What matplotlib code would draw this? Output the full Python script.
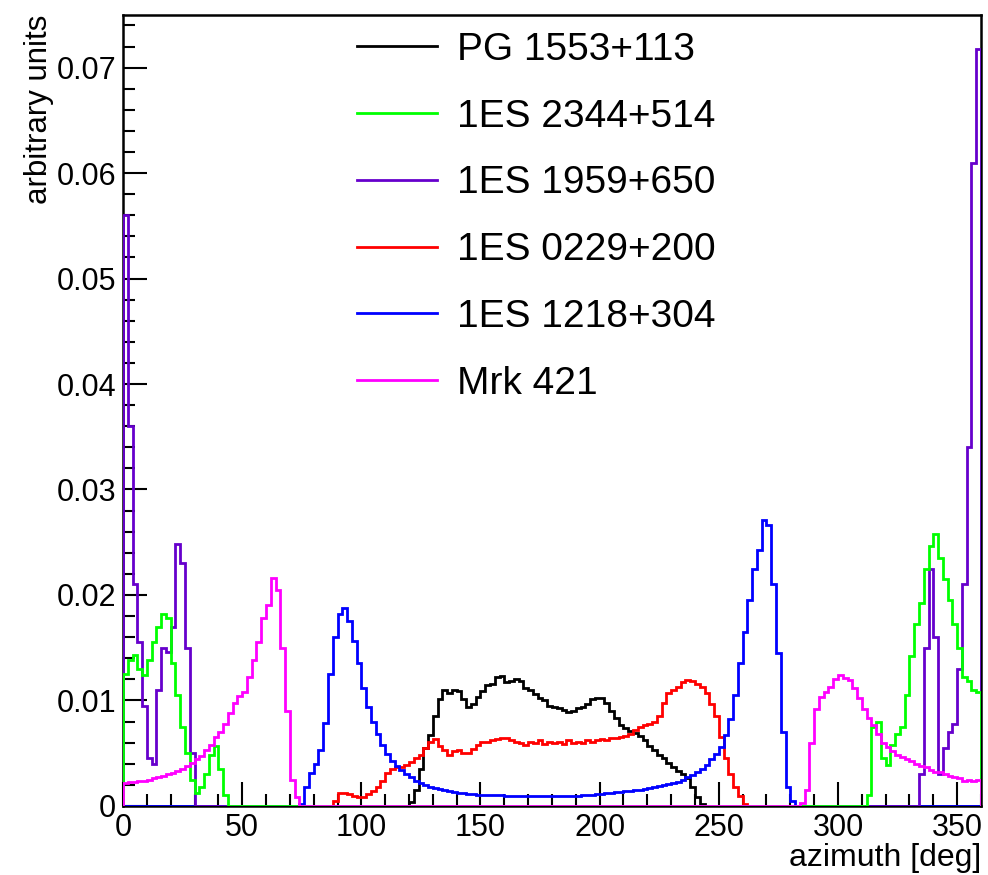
import numpy as np
import matplotlib
matplotlib.use("Agg")
import matplotlib.pyplot as plt
from matplotlib.ticker import MultipleLocator, FuncFormatter

plt.rcParams["font.family"] = ["Liberation Sans", "DejaVu Sans"]

BIN = 2.0  # degrees per bin
edges = np.arange(0, 360 + BIN, BIN)

labels = ["PG 1553+113", "1ES 2344+514", "1ES 1959+650",
          "1ES 0229+200", "1ES 1218+304", "Mrk 421"]
colors = ["#000000", "#00ff00", "#6600cc", "#ff0000", "#0000ff", "#ff00ff"]

# PG 1553+113, from 120 deg
pg1553_start = 120
pg1553 = [0.0004, 0.0015, 0.0035, 0.0055, 0.0067, 0.0085, 0.0101, 0.0110,
          0.0107, 0.0110, 0.0109, 0.0101, 0.0094, 0.0097, 0.0103, 0.0109,
          0.0115, 0.0116, 0.0122, 0.0123, 0.0117, 0.0118, 0.0120, 0.0118,
          0.0112, 0.0110, 0.0106, 0.0102, 0.0100, 0.0095, 0.0094, 0.0093,
          0.0091, 0.0089, 0.0090, 0.0093, 0.0094, 0.0097, 0.0101, 0.0102,
          0.0102, 0.0098, 0.0090, 0.0083, 0.0077, 0.0074, 0.0071, 0.0069,
          0.0066, 0.0062, 0.0057, 0.0053, 0.0048, 0.0045, 0.0041, 0.0037,
          0.0033, 0.0030, 0.0026, 0.0018, 0.0008, 0.0002]

# 1ES 2344+514, two pieces
es2344_left_start = 0
es2344_left = [0.0125, 0.0138, 0.0143, 0.0130, 0.0124, 0.0138, 0.0155, 0.0170,
               0.0182, 0.0178, 0.0135, 0.0105, 0.0075, 0.0050, 0.0025, 0.0012,
               0.0018, 0.0030, 0.0048, 0.0057, 0.0035, 0.0010]
es2344_right_start = 312
es2344_right = [0.0010, 0.0075, 0.0080, 0.0045, 0.0039, 0.0058, 0.0068, 0.0075,
                0.0105, 0.0142, 0.0172, 0.0192, 0.0225, 0.0246, 0.0258, 0.0235,
                0.0215, 0.0195, 0.0172, 0.0150, 0.0122, 0.0118, 0.0110, 0.0108]

# 1ES 1959+650, two pieces
es1959_left_start = 0
es1959_left = [0.0560, 0.0360, 0.0210, 0.0155, 0.0095, 0.0045, 0.0040, 0.0110,
               0.0150, 0.0146, 0.0170, 0.0248, 0.0230, 0.0150, 0.0050]
es1959_right_start = 334
es1959_right = [0.0030, 0.0150, 0.0225, 0.0160, 0.0030, 0.0055, 0.0070, 0.0078,
                0.0130, 0.0210, 0.0340, 0.0610, 0.0718]

# 1ES 0229+200, from 88 deg
es0229_start = 88
es0229 = [0.0005, 0.0012, 0.0012, 0.0011, 0.0009, 0.0008, 0.0008, 0.0011,
          0.0014, 0.0018, 0.0024, 0.0031, 0.0035, 0.0037, 0.0037, 0.0039,
          0.0042, 0.0045, 0.0048, 0.0055, 0.0061, 0.0063, 0.0057, 0.0053,
          0.0048, 0.0052, 0.0053, 0.0050, 0.0050, 0.0054, 0.0058, 0.0061,
          0.0061, 0.0062, 0.0063, 0.0064, 0.0064, 0.0062, 0.0061, 0.0060,
          0.0058, 0.0061, 0.0060, 0.0062, 0.0059, 0.0061, 0.0060, 0.0061,
          0.0059, 0.0062, 0.0060, 0.0061, 0.0060, 0.0062, 0.0061, 0.0062,
          0.0063, 0.0062, 0.0064, 0.0064, 0.0065, 0.0066, 0.0068, 0.0072,
          0.0075, 0.0077, 0.0078, 0.0080, 0.0085, 0.0098, 0.0107, 0.0110,
          0.0113, 0.0117, 0.0119, 0.0118, 0.0116, 0.0113, 0.0107, 0.0097,
          0.0085, 0.0065, 0.0045, 0.0030, 0.0018, 0.0009, 0.0002]

# 1ES 1218+304, from 74 deg
es1218_start = 74
es1218 = [0.0002, 0.0018, 0.0031, 0.0040, 0.0053, 0.0079, 0.0125, 0.0160,
          0.0182, 0.0188, 0.0175, 0.0156, 0.0135, 0.0112, 0.0094, 0.0080,
          0.0068, 0.0058, 0.0049, 0.0043, 0.0038, 0.0034, 0.0030, 0.0027,
          0.0024, 0.0022, 0.0020, 0.0018, 0.0017, 0.0016, 0.0015, 0.0014,
          0.0013, 0.0012, 0.0012, 0.0011, 0.0011, 0.0010, 0.0010, 0.0010,
          0.0010, 0.0010, 0.0010, 0.0009, 0.0009, 0.0009, 0.0009, 0.0009,
          0.0009, 0.0009, 0.0009, 0.0009, 0.0009, 0.0009, 0.0009, 0.0009,
          0.0009, 0.0009, 0.0009, 0.0010, 0.0010, 0.0010, 0.0011, 0.0011,
          0.0012, 0.0012, 0.0013, 0.0013, 0.0014, 0.0014, 0.0015, 0.0015,
          0.0016, 0.0017, 0.0018, 0.0019, 0.0020, 0.0021, 0.0022, 0.0023,
          0.0025, 0.0027, 0.0029, 0.0032, 0.0035, 0.0039, 0.0044, 0.0049,
          0.0056, 0.0067, 0.0082, 0.0105, 0.0135, 0.0165, 0.0195, 0.0225,
          0.0243, 0.0271, 0.0266, 0.0210, 0.0145, 0.0070, 0.0018, 0.0005]

# Mrk 421, two pieces
mrk421_left_start = 0
mrk421_left = [0.0022, 0.0023, 0.0023, 0.0024, 0.0024, 0.0025, 0.0026, 0.0027,
               0.0028, 0.0030, 0.0031, 0.0033, 0.0035, 0.0038, 0.0041, 0.0044,
               0.0047, 0.0053, 0.0058, 0.0065, 0.0070, 0.0078, 0.0088, 0.0098,
               0.0104, 0.0108, 0.0122, 0.0138, 0.0155, 0.0178, 0.0190, 0.0216,
               0.0205, 0.0150, 0.0090, 0.0025, 0.0008]
mrk421_right_start = 284
mrk421_right = [0.0003, 0.0015, 0.0060, 0.0092, 0.0103, 0.0108, 0.0113, 0.0120,
                0.0124, 0.0121, 0.0119, 0.0112, 0.0102, 0.0092, 0.0083, 0.0077,
                0.0068, 0.0060, 0.0056, 0.0052, 0.0048, 0.0046, 0.0044, 0.0043,
                0.0040, 0.0038, 0.0037, 0.0034, 0.0032, 0.0032, 0.0030, 0.0028,
                0.0027, 0.0026, 0.0024, 0.0025, 0.0024, 0.0025]


def histogram(*pieces):
    h = np.zeros(len(edges) - 1)
    for start, vals in pieces:
        i = int(start / BIN)
        h[i:i + len(vals)] = vals
    return h


hists = [
    histogram((pg1553_start, pg1553)),
    histogram((es2344_left_start, es2344_left), (es2344_right_start, es2344_right)),
    histogram((es1959_left_start, es1959_left), (es1959_right_start, es1959_right)),
    histogram((es0229_start, es0229)),
    histogram((es1218_start, es1218)),
    histogram((mrk421_left_start, mrk421_left), (mrk421_right_start, mrk421_right)),
]
# drawing order seen along the zero line (bottom to top)
zorders = [2, 5, 4, 2.5, 3, 6]

fig = plt.figure(figsize=(9.88, 8.75), dpi=100)
ax = fig.add_axes([0.1245, 0.079, 0.8684, 0.904])

for h, lab, col, z in zip(hists, labels, colors, zorders):
    ax.stairs(h, edges, color=col, lw=2.0, label=lab, zorder=z)

ax.set_xlim(0, 360)
ax.set_ylim(0, 0.075)

ax.xaxis.set_major_locator(MultipleLocator(50))
ax.xaxis.set_minor_locator(MultipleLocator(10))
ax.yaxis.set_major_locator(MultipleLocator(0.01))
ax.yaxis.set_minor_locator(MultipleLocator(0.002))
ax.yaxis.set_major_formatter(FuncFormatter(lambda v, p: "0" if v == 0 else f"{v:.2f}"))

ax.tick_params(which="both", direction="in", top=False, right=False,
               width=1.5, labelsize=22)
ax.tick_params(which="major", length=17)
ax.tick_params(which="minor", length=8.5)
ax.tick_params(axis="y", pad=5)
ax.tick_params(axis="x", pad=5)
for s in ax.spines.values():
    s.set_linewidth(1.8)

ax.set_xlabel("azimuth [deg]", fontsize=23, loc="right", labelpad=0)
ax.set_ylabel("arbitrary units", fontsize=22.5, loc="top", labelpad=2)

handles, labs = ax.get_legend_handles_labels()
leg = fig.legend(handles, labs, loc="upper left",
                 bbox_to_anchor=(357 / 988, 1 - 32 / 875),
                 frameon=False, fontsize=28, borderpad=0, borderaxespad=0,
                 handlelength=2.05, handletextpad=0.52, labelspacing=0.79)
for line in leg.get_lines():
    line.set_linewidth(2.0)

fig.savefig("out.png", dpi=100)
